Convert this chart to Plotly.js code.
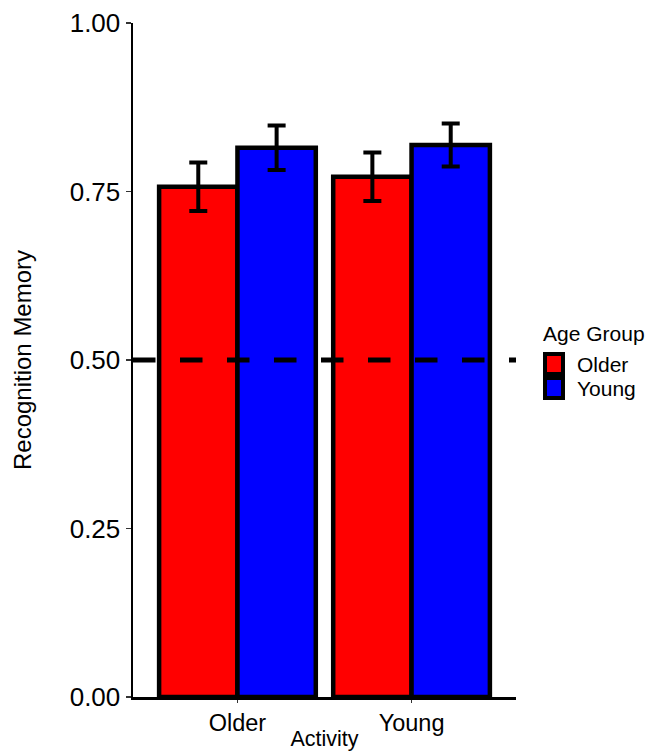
<!DOCTYPE html>
<html>
<head>
<meta charset="utf-8">
<script src="https://cdn.plot.ly/plotly-3.0.1.min.js"></script>
<style>html,body{margin:0;padding:0;background:#fff;}#chart{width:660px;height:751px;}</style>
</head>
<body>
<div id="chart"></div>
<script>
var activities = ["Older", "Young"];
var groupNames = ["Older", "Young"];
var groupColors = ["#ff0000", "#0000ff"];
var olderMeans = [0.757, 0.772];
var olderErrors = [0.036, 0.036];
var youngMeans = [0.815, 0.819];
var youngErrors = [0.033, 0.032];
var chanceLevel = 0.5;
var yTickVals = [0, 0.25, 0.5, 0.75, 1.0];
var yTickText = ["0.00", "0.25", "0.50", "0.75", "1.00"];
var legendTitle = "Age Group";

var font = "Liberation Sans, Arial, sans-serif";
var W = 660, H = 751, M = {l: 133, r: 144, t: 23, b: 54};
var PW = W - M.l - M.r, PH = H - M.t - M.b;
function px(x) { return (x - M.l) / PW; }
function py(y) { return (H - M.b - y) / PH; }

function barTrace(name, means, errs, color) {
  return {
    type: "bar",
    name: name,
    x: activities,
    y: means,
    showlegend: false,
    marker: {color: color, line: {color: "#000", width: 4.5}},
    error_y: {type: "data", array: errs, visible: true, color: "#000", thickness: 4, width: 9}
  };
}

var data = [
  barTrace(groupNames[0], olderMeans, olderErrors, groupColors[0]),
  barTrace(groupNames[1], youngMeans, youngErrors, groupColors[1])
];

// legend drawn as a key (swatches + labels) beside the plot
var shapes = [{
  type: "line", xref: "paper", x0: 0, x1: 1, yref: "y", y0: chanceLevel, y1: chanceLevel,
  line: {color: "#000", width: 5, dash: "22.5px,24.5px"}, layer: "above"
}];
var annotations = [{
  xref: "paper", yref: "paper", x: px(541), y: py(333), xanchor: "left", yanchor: "middle",
  text: legendTitle, showarrow: false, font: {size: 21, color: "#000"}
}];
var keyCenters = [364, 388];
groupNames.forEach(function (g, i) {
  shapes.push({
    type: "rect", xref: "paper", yref: "paper",
    x0: px(545), x1: px(563), y0: py(keyCenters[i] + 10), y1: py(keyCenters[i] - 10),
    fillcolor: groupColors[i], line: {color: "#000", width: 4}, layer: "above"
  });
  annotations.push({
    xref: "paper", yref: "paper", x: px(575), y: py(keyCenters[i]), xanchor: "left", yanchor: "middle",
    text: g, showarrow: false, font: {size: 21, color: "#000"}
  });
});

var layout = {
  width: W, height: H,
  margin: M,
  paper_bgcolor: "#fff", plot_bgcolor: "#fff",
  barmode: "group", bargap: 0.1, bargroupgap: 0,
  showlegend: false,
  font: {family: font, color: "#000"},
  xaxis: {
    type: "category", range: [-0.6, 1.6],
    showline: true, linecolor: "#000", linewidth: 3,
    ticks: "outside", ticklen: 3, tickwidth: 1, tickcolor: "#333",
    tickfont: {size: 23.5, color: "#000"},
    showgrid: false, zeroline: false,
    title: {text: "Activity", font: {size: 21.5, color: "#000"}, standoff: 3}
  },
  yaxis: {
    range: [0, 1], tickvals: yTickVals, ticktext: yTickText,
    showline: true, linecolor: "#000", linewidth: 2.5,
    ticks: "outside", ticklen: 5, tickwidth: 1.5, tickcolor: "#333",
    tickfont: {size: 26, color: "#000"},
    showgrid: false, zeroline: false,
    title: {text: "Recognition Memory", font: {size: 24, color: "#000"}, standoff: 32}
  },
  shapes: shapes,
  annotations: annotations
};

Plotly.newPlot("chart", data, layout, {displayModeBar: false, staticPlot: true});
</script>
</body>
</html>
